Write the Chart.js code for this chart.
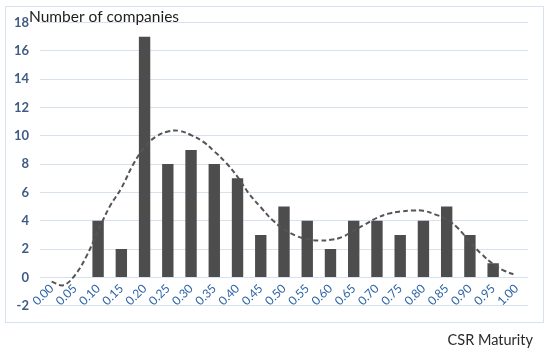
<!DOCTYPE html>
<html><head><meta charset="utf-8">
<script src="https://cdn.jsdelivr.net/npm/chart.js@4.4.0/dist/chart.umd.min.js"></script>
<style>html,body{margin:0;padding:0;background:#fff;} canvas{display:block;}</style>
</head><body>
<canvas id="c" width="550" height="355"></canvas>
<script>
// ---- data ----
const categories = ['0.00','0.05','0.10','0.15','0.20','0.25','0.30','0.35','0.40','0.45','0.50',
                    '0.55','0.60','0.65','0.70','0.75','0.80','0.85','0.90','0.95','1.00'];
const companies = [0,0,4,2,17,8,9,8,7,3,5,4,2,4,4,3,4,5,3,1,0];
// dashed trend curve (x = CSR maturity, y = companies)
const curveX = [0,0.025,0.05,0.075,0.1,0.125,0.15,0.175,0.2,0.225,0.25,0.275,0.3,0.325,0.35,0.375,0.4,
                0.425,0.45,0.475,0.5,0.525,0.55,0.575,0.6,0.625,0.65,0.675,0.7,0.725,0.75,0.775,0.8,
                0.825,0.85,0.875,0.9,0.925,0.95,0.975,1];
const curveY = [-0.3,-0.55,0.15,1.5,3.3,5.0,6.3,7.95,9.2,9.95,10.3,10.35,10.05,9.6,8.9,8.1,7.1,
                5.9,4.95,4.05,3.4,2.95,2.7,2.6,2.65,2.85,3.3,3.75,4.2,4.5,4.65,4.72,4.7,
                4.45,4.1,3.45,2.5,1.65,0.95,0.45,0.15];
const yMin = -2, yMax = 18, yStep = 2;
const yTitle = 'Number of companies';
const xTitle = 'CSR Maturity';

const gridColor = '#d8e2ee';

const decor = {
  id: 'decor',
  beforeDraw(chart) {
    const ctx = chart.ctx;
    ctx.save();
    ctx.fillStyle = '#fff';
    ctx.fillRect(0, 0, chart.width, chart.height);
    ctx.strokeStyle = gridColor;
    ctx.lineWidth = 1;
    ctx.strokeRect(5.5, 6.5, 538, 316);
    ctx.restore();
  },
  afterDraw(chart) {
    const ctx = chart.ctx;
    ctx.save();
    ctx.fillStyle = '#1e1e1e';
    ctx.font = '15.5px Lato';
    ctx.textAlign = 'left';
    ctx.textBaseline = 'alphabetic';
    ctx.fillText(yTitle, 29, 22);
    ctx.fillStyle = '#2a2a2a';
    ctx.font = '14.5px Lato';
    ctx.textAlign = 'right';
    ctx.fillText(xTitle, 533, 345);
    ctx.restore();
  }
};

new Chart(document.getElementById('c'), {
  type: 'bar',
  data: {
    labels: categories,
    datasets: [
      {
        type: 'line',
        data: curveX.map((x, i) => ({x: x, y: curveY[i]})),
        xAxisID: 'x2',
        yAxisID: 'y',
        borderColor: '#555555',
        borderWidth: 2,
        borderDash: [5, 3],
        pointRadius: 0,
        tension: 0.4,
        fill: false,
        order: 0
      },
      {
        type: 'bar',
        data: companies,
        xAxisID: 'x',
        yAxisID: 'y',
        backgroundColor: '#4d4d4d',
        borderWidth: 0,
        grouped: false,
        barPercentage: 0.49,
        categoryPercentage: 1,
        order: 1
      }
    ]
  },
  options: {
    responsive: false,
    animation: false,
    layout: { padding: { top: 22.5, left: 0, right: 22, bottom: 49.3 } },
    plugins: { legend: { display: false }, tooltip: { enabled: false }, title: { display: false } },
    scales: {
      x: {
        type: 'category',
        position: { y: 0 },
        offset: true,
        grid: { display: false, drawTicks: false },
        border: { display: false },
        ticks: {
          color: '#2e64a6',
          font: { family: 'Lato', size: 12 },
          minRotation: 45, maxRotation: 45,
          padding: 4,
          autoSkip: false
        },
        afterFit(scale) { scale.height = 10; }
      },
      x2: {
        type: 'linear',
        display: false,
        offset: false,
        min: -0.025,
        max: 1.025
      },
      y: {
        min: yMin, max: yMax,
        ticks: {
          stepSize: yStep,
          color: '#3f5b84',
          font: { family: 'Lato', size: 13, weight: 'bold' },
          padding: 11
        },
        grid: { color: gridColor, drawTicks: false },
        border: { display: false },
        afterFit(scale) { scale.width = 40; }
      }
    }
  },
  plugins: [decor]
});
</script>
</body></html>
